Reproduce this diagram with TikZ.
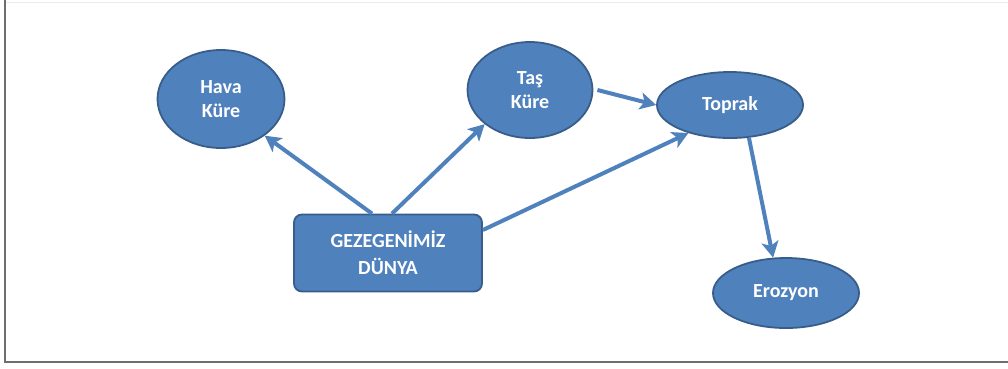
\documentclass[tikz,border=0pt]{standalone}
\usepackage{fontspec}
\setmainfont{Carlito}
\usetikzlibrary{shapes.geometric, arrows.meta}
\definecolor{kureblue}{HTML}{4F81BD}
\definecolor{kureedge}{HTML}{385D8A}
\definecolor{framegray}{HTML}{6E6E6E}
\begin{document}
\begin{tikzpicture}[x=1pt, y=-1pt,
    kure/.style={draw=kureedge, line width=1.8pt, fill=kureblue, ellipse, inner sep=0pt,
        text=white, font=\fontsize{20}{24}\selectfont\bfseries, align=center},
    dunya/.style={draw=kureedge, line width=1.8pt, fill=kureblue, rectangle, rounded corners=8pt,
        text=white, font=\fontsize{20}{27}\selectfont\bfseries, align=center},
    link/.style={draw=kureblue, line width=4pt,
        -{Stealth[length=16pt, width=17pt, inset=4pt]}}]
    \useasboundingbox (0,0) rectangle (1008,368);
    % Frame
    \draw[black!8, line width=1pt] (5,2) -- (1008,2);
    \draw[framegray, line width=2.5pt] (5,0) -- (5,362) -- (1008,362);

    % Nodes
    \node[kure, minimum width=127pt, minimum height=98pt] (hava) at (221,99) {Hava\\Küre};
    \node[kure, minimum width=125pt, minimum height=96pt] (tas) at (530,90) {Taş\\Küre};
    \node[kure, minimum width=146pt, minimum height=66pt] (toprak) at (730,105) {Toprak};
    \node[kure, minimum width=146pt, minimum height=70pt] (erozyon) at (786,293) {Erozyon};
    \node[dunya, minimum width=188pt, minimum height=77pt] (dunya) at (388,253) {GEZEGENİMİZ\\DÜNYA};

    % Arrows
    \draw[link] ([xshift=-16pt]dunya.north) -- (hava.-40);
    \draw[link] ([xshift=4pt]dunya.north) -- (tas.-143);
    \draw[link] ([yshift=23pt]dunya.east) -- (toprak.-146);
    \draw[link] ([xshift=4pt]tas.east) -- (toprak.west);
    \draw[link] (toprak.-60) -- (erozyon.110);
\end{tikzpicture}
\end{document}
